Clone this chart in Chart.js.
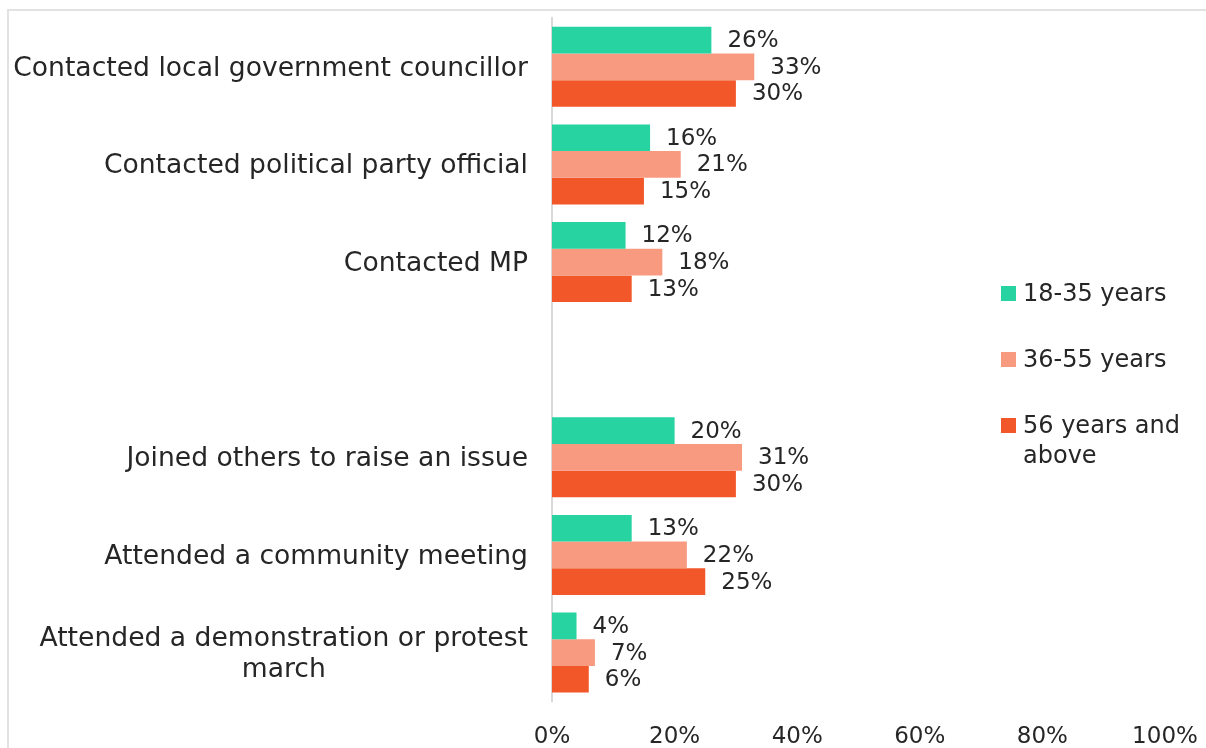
<!DOCTYPE html>
<html>
<head>
<meta charset="utf-8">
<title>Participation by age group</title>
<script src="https://cdn.jsdelivr.net/npm/chart.js@4.4.1/dist/chart.umd.min.js"></script>
<style>
  html, body { margin: 0; padding: 0; background: #fff; overflow: hidden; }
  #wrap { position: relative; width: 1206px; height: 748px; overflow: hidden; }
  #frame {
    position: absolute; left: 7px; top: 9px; width: 1300px; height: 900px;
    border-top: 2px solid #e2e2e2; border-left: 2px solid #e2e2e2;
  }
  #chart { position: absolute; left: 0; top: 0; }
  #legend {
    position: absolute; left: 1001px; top: 278px; width: 200px;
    font-family: "DejaVu Sans", sans-serif; font-size: 24px; color: #262626;
  }
  .item { display: flex; align-items: flex-start; margin-bottom: 36px; line-height: 30px; }
  .swatch { width: 15px; height: 15px; margin-top: 8px; margin-right: 7px; flex: none; }
</style>
</head>
<body>
<div id="wrap">
  <div id="frame"></div>
  <canvas id="chart" width="1206" height="751"></canvas>
  <div id="legend"></div>
</div>
<script>
// Categories (empty string = gap row between the two groups)
const categories = [
  'Contacted local government councillor',
  'Contacted political party official',
  'Contacted MP',
  '',
  'Joined others to raise an issue',
  'Attended a community meeting',
  ['Attended a demonstration or protest', 'march']
];

// Series values (percent)
const youngValues  = [26, 16, 12, null, 20, 13, 4];
const middleValues = [33, 21, 18, null, 31, 22, 7];
const olderValues  = [30, 15, 13, null, 30, 25, 6];

const seriesLabels = ['18-35 years', '36-55 years', '56 years and above'];
const seriesColors = ['#26D3A1', '#F79A80', '#F2572A'];

// x axis ticks
const xTicks = [0, 20, 40, 60, 80, 100];

const textColor = '#262626';
const fontFamily = '"DejaVu Sans", sans-serif';

// Draws category labels right-aligned as blocks, with lines centred inside each block
const categoryLabelPlugin = {
  id: 'categoryLabels',
  afterDraw(chart) {
    const ctx = chart.ctx;
    const yScale = chart.scales.y;
    const rightEdge = 528;
    const lineHeight = 31;
    ctx.save();
    ctx.font = '26.6px ' + fontFamily;
    ctx.fillStyle = textColor;
    ctx.textAlign = 'center';
    ctx.textBaseline = 'middle';
    categories.forEach((label, i) => {
      const lines = Array.isArray(label) ? label : [label];
      if (!lines.join('')) return;
      const blockWidth = Math.max(...lines.map(l => ctx.measureText(l).width));
      const cx = rightEdge - blockWidth / 2;
      const cy = yScale.getPixelForValue(i) + 2;
      const top = cy - (lines.length - 1) * lineHeight / 2;
      lines.forEach((l, j) => ctx.fillText(l, cx, top + j * lineHeight));
    });
    ctx.restore();
  }
};

// Draws the value labels just past the end of each bar
const valueLabelPlugin = {
  id: 'valueLabels',
  afterDatasetsDraw(chart) {
    const ctx = chart.ctx;
    ctx.save();
    ctx.font = '23px ' + fontFamily;
    ctx.fillStyle = textColor;
    ctx.textAlign = 'left';
    ctx.textBaseline = 'middle';
    chart.data.datasets.forEach((ds, di) => {
      const meta = chart.getDatasetMeta(di);
      meta.data.forEach((bar, i) => {
        const v = ds.data[i];
        if (v === null || v === undefined) return;
        ctx.fillText(v + '%', bar.x + 16, bar.y + 1);
      });
    });
    ctx.restore();
  }
};

function buildLegend() {
  const box = document.getElementById('legend');
  seriesLabels.forEach((label, i) => {
    const item = document.createElement('div');
    item.className = 'item';
    const sw = document.createElement('span');
    sw.className = 'swatch';
    sw.style.background = seriesColors[i];
    const txt = document.createElement('span');
    txt.textContent = label;
    item.appendChild(sw);
    item.appendChild(txt);
    box.appendChild(item);
  });
}

function renderChart() {
  const ctx = document.getElementById('chart').getContext('2d');
  const values = [youngValues, middleValues, olderValues];
  new Chart(ctx, {
    type: 'bar',
    data: {
      labels: categories,
      datasets: values.map((data, i) => ({
        label: seriesLabels[i],
        data: data,
        backgroundColor: seriesColors[i],
        borderWidth: 0,
        categoryPercentage: 0.82,
        barPercentage: 1
      }))
    },
    options: {
      indexAxis: 'y',
      responsive: false,
      animation: false,
      devicePixelRatio: 1,
      layout: { padding: { left: 552, right: 41, top: 18, bottom: 0 } },
      scales: {
        x: {
          min: 0,
          max: 100,
          afterBuildTicks: axis => { axis.ticks = xTicks.map(v => ({ value: v })); },
          // hidden tick marks still push the labels down without widening the side padding
          grid: { display: false, drawTicks: true, tickLength: 22 },
          border: { display: false },
          ticks: {
            padding: 0,
            maxRotation: 0,
            color: textColor,
            font: { family: fontFamily, size: 23 },
            callback: v => v + '%'
          }
        },
        y: {
          grid: { display: false, drawTicks: false },
          border: { display: true, color: '#d9d9d9', width: 2 },
          ticks: { display: false }
        }
      },
      plugins: {
        legend: { display: false },
        tooltip: { enabled: false }
      }
    },
    plugins: [categoryLabelPlugin, valueLabelPlugin]
  });
}

document.addEventListener('DOMContentLoaded', () => {
  buildLegend();
  renderChart();
});
</script>
</body>
</html>
